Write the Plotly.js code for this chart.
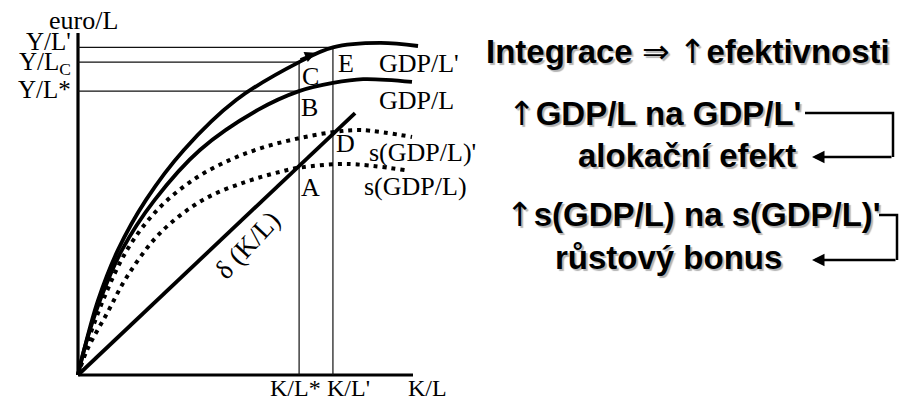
<!DOCTYPE html>
<html><head><meta charset="utf-8">
<script src="https://cdn.plot.ly/plotly-3.0.1.min.js"></script>
<style>html,body{margin:0;padding:0;background:#fff}</style>
</head><body><div id="chart" style="width:899px;height:402px"></div>
<script>
// ---- data (schematic units: K/L on x, euro/L on y) ----
const gdpPrimeX = [0, 1.8, 6.0, 11.9, 20.3, 31.6, 47.2, 66.0, 76.1, 90.1, 101.5];
const gdpPrimeY = [0, 7.3, 21.9, 36.5, 51.2, 65.8, 80.4, 91.5, 95.8, 97.1, 96.2];
const gdpX = [0, 1.8, 6.6, 13.1, 22.9, 36.4, 53.7, 66.0, 76.1, 85.1, 99.7];
const gdpY = [0, 7.3, 21.9, 36.5, 51.2, 65.8, 77.5, 83.0, 85.4, 86.5, 85.7];
const sGdpPrimeX = [0, 2.1, 7.5, 14.6, 23.6, 34.3, 45.4, 55.8, 66.3, 76.7, 84.8, 99.7];
const sGdpPrimeY = [0, 7.3, 21.9, 36.5, 48.2, 57.0, 62.9, 66.7, 69.3, 71.1, 71.6, 69.6];
const sGdpX = [0, 2.7, 8.7, 14.6, 24.5, 37.3, 49.9, 60.3, 66.0, 80.3, 97.6];
const sGdpY = [0, 7.3, 18.1, 28.7, 41.5, 51.2, 56.4, 59.4, 60.6, 61.7, 59.9];
const deltaX = [0, 82.7];
const deltaY = [0, 76.6];
const axisXEnd = 100;
const axisYEnd = 100;
const klStar = 66.0, klPrime = 76.1;
const yStar = 83.0, yC = 91.5, yPrime = 95.8;
const yTickLabels = ["Y/L'", "Y/L<sub>C</sub>", "Y/L*"];
const xTickLabels = ["K/L*", "K/L'", "K/L"];
const curveLabels = ["GDP/L'", "GDP/L", "s(GDP/L)'", "s(GDP/L)", "δ (K/L)"];
const pointLabels = ["A", "B", "C", "D", "E"];
const rightTexts = ["Integrace ⇒ ↑efektivnosti", "↑GDP/L na GDP/L'", "alokační efekt",
                    "↑s(GDP/L) na s(GDP/L)'", "růstový bonus"];

// ---- layout geometry ----
const W = 899, H = 402;
const X0PX = 78, Y0PX = 375, PXX = 3.35, PXY = 3.42;
const xr = [-5, 120], yr = [-7, 105];
const px = v => v / W, py = v => 1 - v / H;

const serif = {family: "Liberation Serif, Times New Roman, serif", size: 26, color: "#000"};
const serifY = Object.assign({}, serif, {size: 25});
const serifX = Object.assign({}, serif, {size: 24});
const bold = {family: "Liberation Sans, Arial, sans-serif", size: 33, color: "#000", weight: 700,
              shadow: "2px 2px 1px rgba(0,0,0,0.3)"};
const symb = s => s.replace(/[⇒↑]/g, c => '<span style="font-family:DejaVu Sans;font-weight:400">' + c + '</span>');

const solid = {color: "#000", width: 3.8, shape: "spline", smoothing: 1};
const dotted = {color: "#000", width: 4, dash: "4px,5px", shape: "spline", smoothing: 1};
const thin = {color: "#111", width: 1.2};

const traces = [
  {x: [0, axisXEnd], y: [0, 0], line: {color: "#000", width: 3.2}},
  {x: [0, 0], y: [0, axisYEnd], line: {color: "#000", width: 3.2}},
  {x: [0, klPrime], y: [yPrime, yPrime], line: thin},
  {x: [0, klStar], y: [yC, yC], line: thin},
  {x: [0, klStar], y: [yStar, yStar], line: thin},
  {x: [klStar, klStar], y: [0, yC], line: thin},
  {x: [klPrime, klPrime], y: [0, yPrime], line: thin},
  {x: gdpPrimeX, y: gdpPrimeY, line: solid},
  {x: gdpX, y: gdpY, line: solid},
  {x: sGdpPrimeX, y: sGdpPrimeY, line: dotted},
  {x: sGdpX, y: sGdpY, line: dotted},
  {x: deltaX, y: deltaY, line: {color: "#000", width: 3.8}}
].map(t => Object.assign({type: "scatter", mode: "lines", hoverinfo: "skip", showlegend: false}, t));

const ann = [];
const lab = (text, x, y, xanchor, font, extra) =>
  ann.push(Object.assign({text, x, y, xref: "x", yref: "y", xanchor: xanchor || "center",
    yanchor: "middle", showarrow: false, font: font || serif}, extra || {}));

lab("euro/L", 1.6, 103.8);
lab(yTickLabels[0], -1.6, 97.6, "right", serifY);
lab(yTickLabels[1], -1.6, 91.0, "right", serifY);
lab(yTickLabels[2], -1.6, 83.4, "right", serifY);
lab(xTickLabels[0], 64.9, -3.8, "center", serifX);
lab(xTickLabels[1], 80.6, -3.8, "center", serifX);
lab(xTickLabels[2], 104.3, -3.8, "center", serifX);
lab(pointLabels[2], 66.2, 87.4, "left");
lab(pointLabels[4], 77.0, 91.2, "left");
lab(curveLabels[0], 89.2, 91.2, "left");
lab(pointLabels[1], 66.0, 78.1, "left");
lab(curveLabels[1], 89.2, 80.4, "left");
lab(pointLabels[3], 76.3, 67.8, "left");
lab(curveLabels[2], 86.2, 65.2, "left");
lab(pointLabels[0], 66.0, 54.7, "left");
lab(curveLabels[3], 84.7, 55.0, "left");
lab(curveLabels[4], 50.6, 38.0, "center", Object.assign({}, serif, {size: 27}), {textangle: -47});

// arrow along GDP/L' from C towards E
ann.push({x: 71.0, y: 94.2, xref: "x", yref: "y", ax: -17, ay: 7, text: "", showarrow: true,
  arrowhead: 2, arrowsize: 1.1, arrowwidth: 2, arrowcolor: "#000", standoff: 0});

// right-hand texts
const rt = (text, cx, cy) => ann.push({text: symb(text), x: px(cx), y: py(cy), xref: "paper", yref: "paper",
  xanchor: "center", yanchor: "middle", showarrow: false, font: bold});
rt(rightTexts[0], 688, 52);
rt(rightTexts[1], 654, 114);
rt(rightTexts[2], 687, 155);
rt(rightTexts[3], 693, 215);
rt(rightTexts[4], 668, 257);

// bracket arrowheads
const arr = (tipX, tipY, len) => ann.push({x: px(tipX), y: py(tipY), xref: "paper", yref: "paper",
  ax: len, ay: 0, text: "", showarrow: true, arrowhead: 2, arrowsize: 1, arrowwidth: 2.5,
  arrowcolor: "#000", standoff: 0});
arr(812, 157, 81);
arr(812, 260, 85);

const path = pts => "M " + pts.map(p => px(p[0]) + "," + py(p[1])).join(" L ");
const shapes = [
  {type: "path", xref: "paper", yref: "paper", path: path([[805, 113], [893, 113], [893, 157]]),
   line: {color: "#000", width: 2.5}},
  {type: "path", xref: "paper", yref: "paper", path: path([[879, 215], [897, 215], [897, 260]]),
   line: {color: "#000", width: 2.5}}
];

const ax = {showgrid: false, zeroline: false, showticklabels: false, showline: false, ticks: "", fixedrange: true};
const layout = {
  width: W, height: H, margin: {l: 0, r: 0, t: 0, b: 0},
  paper_bgcolor: "#fff", plot_bgcolor: "rgba(0,0,0,0)",
  xaxis: Object.assign({range: xr, domain: [(X0PX + xr[0] * PXX) / W, (X0PX + xr[1] * PXX) / W]}, ax),
  yaxis: Object.assign({range: yr, domain: [(H - (Y0PX - yr[0] * PXY)) / H, (H - (Y0PX - yr[1] * PXY)) / H]}, ax),
  annotations: ann, shapes: shapes, showlegend: false
};
Plotly.newPlot("chart", traces, layout, {displayModeBar: false, staticPlot: true});
</script></body></html>
